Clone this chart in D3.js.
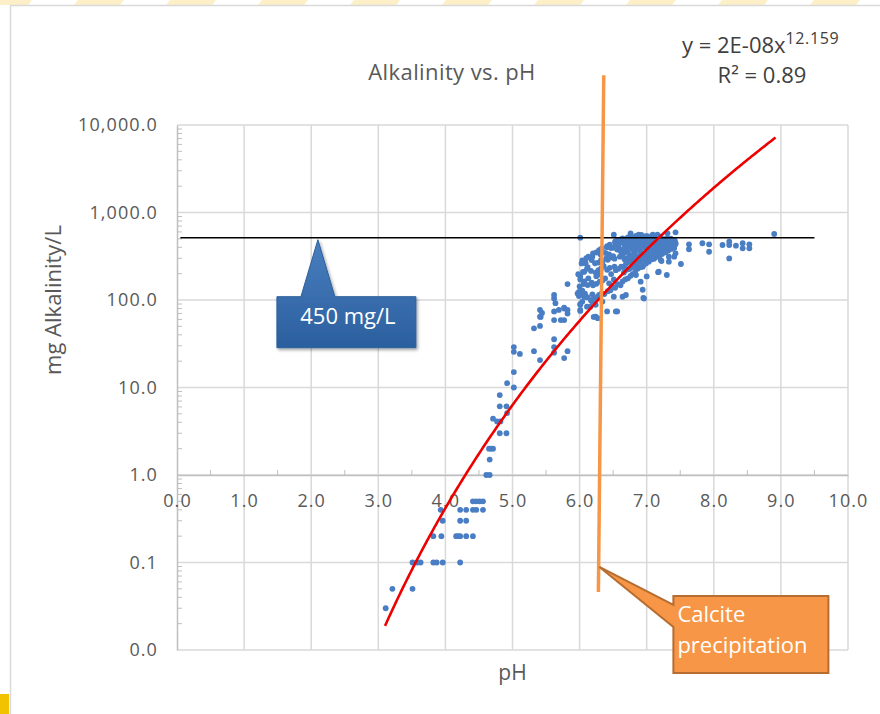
<!DOCTYPE html>
<html>
<head>
<meta charset="utf-8">
<script src="https://cdn.jsdelivr.net/npm/d3@7"></script>
<style>
  body { margin: 0; background: #fff; }
  text { font-family: "Open Sans", sans-serif; }
</style>
</head>
<body>
<div id="vis"></div>
<script>
// axis ticks
const xTicks = [0, 1, 2, 3, 4, 5, 6, 7, 8, 9, 10]
const yTicks = [0.01, 0.1, 1, 10, 100, 1000, 10000]
const yTickLabels = ['0.0', '0.1', '1.0', '10.0', '100.0', '1,000.0', '10,000.0']

// power trendline y = 2E-08 x^12.159
const trendCoef = 2e-8
const trendPow = 12.159
const trendRange = [3.1, 8.92]

// reference lines
const limitValue = 515          // horizontal line labelled "450 mg/L"
const limitRange = [0.05, 9.5]
const calcitePh = [6.36, 6.28]  // top, bottom of the orange line
const calciteAlk = [37000, 0.046]

// samples [pH, mg alkalinity / L] - low and scattered part
const samples = [
  [3.11,0.03],[3.21,0.05],[3.51,0.05],
  [3.51,0.1],[3.58,0.1],[3.63,0.1],[3.82,0.1],[3.87,0.1],[3.96,0.1],[4.22,0.1],
  [3.82,0.2],[3.94,0.2],[4.16,0.2],[4.19,0.2],[4.22,0.2],[4.31,0.2],[4.41,0.2],
  [3.96,0.3],[4.22,0.3],[4.31,0.3],
  [3.93,0.4],[4.22,0.4],[4.31,0.4],[4.41,0.4],[4.46,0.4],[4.56,0.4],
  [4.41,0.5],[4.46,0.5],[4.51,0.5],[4.56,0.5],
  [4.61,1.0],[4.66,1.0],[4.66,1.5],
  [4.65,2.0],[4.68,2.0],[4.71,2.0],
  [4.81,3.0],[4.91,3.0],
  [4.71,4.4],[4.77,4.1],[4.82,4.1],[4.92,5.1],
  [4.81,6.1],[4.91,6.1],[4.81,8.2],
  [4.92,11.2],[5.02,10],[5.02,15],
  [5.02,29],[5.02,25.6],[5.11,24.2],
  [5.32,26],[5.41,20.6],[5.62,35.6],[5.62,29],[5.62,25],[5.77,21.7],[5.82,26],
  [5.32,47.5],[5.41,50.5],[5.41,64.5],[5.44,71],[5.41,77],[5.42,64],
  [5.62,114],[5.62,104],[5.64,92],[5.62,74],[5.69,77],[5.77,82],[5.82,70],[5.72,59],[5.62,59],
  [5.82,152],[5.77,80],[5.82,77],[5.77,59],
  [5.99,119],[5.99,124],[5.99,111],[6.04,96],[6.01,117],[6.01,90],[6.01,75],[6.01,77],[6.01,88],
  [6.16,84],[6.11,84],[6.24,64.5],[6.21,64],[6.27,62],[6.24,88],[6.19,96],[6.34,96],
  [6.41,74],[6.54,74],[6.56,74],[6.51,109],[6.64,109],[6.69,114],[6.91,162],[6.96,104],
  [6.95,106],[6.94,131],[6.84,193],[6.94,240],[7.18,211],[7.30,193],[7.0,186],[7.17,208],
  [6.07,211],[6.01,186],[6.01,171],[6.07,109],[6.09,263],[6.19,313],[5.97,119],[6.04,114],[6.09,109],
  // row along the limit line
  [6.01,515],[6.51,557],[6.76,578],[6.88,557],[6.99,535],[7.09,557],[7.16,557],[7.31,578],[7.43,594],[8.9,568],
  // high pH tail
  [7.63,433],[7.83,445],[7.93,433],[7.93,356],[8.13,425],[8.23,464],[8.23,425],[8.23,299],[8.33,418],
  [8.43,445],[8.43,390],[8.53,433],[8.53,390],[7.63,380],[7.51,258],[7.43,341],[7.43,445],[7.41,410],
  [7.41,313],[7.33,274],[7.33,313],[7.21,286],[7.22,279]
]

// dense cluster between pH 6 and 7.4
const clusterSamples = [
  [6.00,143],[5.98,197],[6.03,262],
  [6.04,128],[6.06,152],[6.05,209],[6.04,283],
  [6.08,118],[6.07,163],[6.11,227],[6.10,301],[6.12,148],
  [6.12,107],[6.13,177],[6.12,238],[6.13,312],
  [6.17,99],[6.19,116],[6.18,158],[6.17,215],[6.18,286],
  [6.21,103],[6.20,147],[6.24,206],[6.23,263],[6.20,341],[6.25,187],
  [6.26,108],[6.25,153],[6.29,196],[6.28,268],[6.25,349],
  [6.29,114],[6.30,162],[6.28,219],[6.32,287],[6.31,333],[6.29,371],
  [6.33,119],[6.34,167],[6.32,229],[6.34,271],[6.35,352],[6.33,388],
  [6.37,117],[6.38,176],[6.36,244],[6.40,298],[6.39,343],[6.41,412],
  [6.42,126],[6.44,155],[6.41,221],[6.42,288],[6.44,331],[6.41,401],
  [6.46,129],[6.47,198],[6.45,233],[6.46,307],[6.47,392],[6.45,428],
  [6.49,141],[6.51,172],[6.52,240],[6.50,318],[6.51,396],[6.53,452],
  [6.53,138],[6.54,219],[6.52,297],[6.56,377],[6.55,418],[6.53,466],
  [6.57,152],[6.58,227],[6.60,313],[6.59,389],[6.58,437],[6.56,478],
  [6.61,147],[6.62,241],[6.64,324],[6.61,362],[6.62,452],[6.60,491],
  [6.64,163],[6.66,206],[6.65,238],[6.67,292],[6.63,336],[6.65,378],[6.67,429],[6.66,471],[6.64,507],
  [6.68,172],[6.70,221],[6.69,258],[6.71,301],[6.67,347],[6.69,397],[6.71,443],[6.70,488],
  [6.72,177],[6.74,226],[6.73,271],[6.75,316],[6.71,362],[6.73,409],[6.75,462],[6.74,503],[6.72,521],
  [6.76,189],[6.78,238],[6.77,284],[6.75,327],[6.79,376],[6.76,428],[6.78,476],[6.77,531],
  [6.79,198],[6.81,247],[6.80,297],[6.82,342],[6.78,391],[6.80,433],[6.82,482],[6.81,517],
  [6.83,214],[6.85,256],[6.84,311],[6.82,358],[6.86,402],[6.83,447],[6.85,496],[6.84,541],
  [6.87,229],[6.89,273],[6.88,318],[6.90,363],[6.86,418],[6.88,458],[6.90,507],
  [6.91,238],[6.93,287],[6.92,332],[6.90,377],[6.94,423],[6.91,469],[6.93,516],[6.92,553],
  [6.95,251],[6.97,296],[6.96,341],[6.98,392],[6.94,431],[6.96,478],[6.98,527],
  [6.99,262],[7.01,308],[7.00,352],[6.98,397],[7.02,443],[6.99,491],[7.01,536],
  [7.03,274],[7.05,319],[7.04,366],[7.06,408],[7.02,452],[7.04,497],[7.06,518],
  [7.07,291],[7.09,328],[7.08,377],[7.06,419],[7.10,461],[7.07,508],[7.09,548],
  [7.11,296],[7.13,344],[7.12,383],[7.14,428],[7.10,472],[7.12,512],
  [7.15,312],[7.17,351],[7.16,392],[7.14,437],[7.18,479],[7.15,526],
  [7.19,318],[7.21,367],[7.20,404],[7.22,446],[7.18,488],[7.20,531],
  [7.23,336],[7.25,378],[7.24,416],[7.22,459],[7.26,497],
  [7.28,351],[7.30,392],[7.29,431],[7.27,468],[7.31,506],
  [7.32,366],[7.34,408],[7.33,447],[7.35,489],
  [7.37,383],[7.39,422],[7.38,463],[7.36,502],
  [7.41,392],[7.43,437],[7.42,476]
]

let margin = {top: 125, right: 32, bottom: 64, left: 177},
    width = 880 - margin.left - margin.right,
    height = 714 - margin.top - margin.bottom

let root = d3.select('#vis')
  .append('svg')
  .attr('width', 880)
  .attr('height', 714)

// slide frame
let stripeStarts = d3.range(-20, 880, 92)
root.selectAll('.stripe')
  .data(stripeStarts)
  .join('path')
  .attr('d', d => `M${d + 6},0 L${d + 52},0 L${d + 48},5 L${d + 2},5 Z`)
  .attr('fill', '#fdf0c8')
root.append('line')
  .attr('x1', 10).attr('x2', 880).attr('y1', 5.5).attr('y2', 5.5)
  .attr('stroke', '#d9d9d9').attr('stroke-width', 1.5)
root.append('line')
  .attr('x1', 10.5).attr('x2', 10.5).attr('y1', 5).attr('y2', 714)
  .attr('stroke', '#d9d9d9').attr('stroke-width', 1.5)
root.append('rect')
  .attr('x', 0).attr('y', 694).attr('width', 9).attr('height', 20)
  .attr('fill', '#f2c200')

let defs = root.append('defs')
let grad = defs.append('linearGradient')
  .attr('id', 'blueGrad').attr('x1', 0).attr('x2', 0).attr('y1', 0).attr('y2', 1)
grad.append('stop').attr('offset', '0%').attr('stop-color', '#4a7ebf')
grad.append('stop').attr('offset', '100%').attr('stop-color', '#2b5f9e')
let shadow = defs.append('filter').attr('id', 'shadow')
  .attr('x', '-20%').attr('y', '-20%').attr('width', '140%').attr('height', '140%')
shadow.append('feDropShadow')
  .attr('dx', 1.5).attr('dy', 2).attr('stdDeviation', 1.5)
  .attr('flood-color', '#000').attr('flood-opacity', 0.35)

let svg = root.append('g')
  .attr('transform', `translate(${margin.left},${margin.top})`)

let xScale = d3.scaleLinear().domain([0, 10]).range([0, width])
let yScale = d3.scaleLog().domain([0.01, 10000]).range([height, 0])

// gridlines
svg.selectAll('.vgrid')
  .data(xTicks.slice(1))
  .join('line')
  .attr('x1', d => xScale(d)).attr('x2', d => xScale(d))
  .attr('y1', 0).attr('y2', height)
  .attr('stroke', '#d9d9d9').attr('stroke-width', 1.5)
svg.selectAll('.hgrid')
  .data(yTicks)
  .join('line')
  .attr('x1', 0).attr('x2', width)
  .attr('y1', d => yScale(d)).attr('y2', d => yScale(d))
  .attr('stroke', '#d9d9d9').attr('stroke-width', 1.5)

// y axis
let yAxis = svg.append('g')
  .call(d3.axisLeft(yScale).tickValues(yTicks).tickSize(0).tickPadding(19)
    .tickFormat((d, i) => yTickLabels[i]))
yAxis.select('.domain').attr('stroke', '#bfbfbf').attr('stroke-width', 1.5)
yAxis.selectAll('text')
  .attr('font-size', 18).attr('fill', '#595959')
  .style('letter-spacing', '1.1px')
  .style('font-family', '"Open Sans", sans-serif')

let minorY = []
yTicks.slice(0, -1).forEach(d => {
  for (let k = 2; k < 10; k++) minorY.push(d * k)
})
svg.selectAll('.yminor')
  .data(minorY)
  .join('line')
  .attr('x1', 0).attr('x2', 5)
  .attr('y1', d => yScale(d)).attr('y2', d => yScale(d))
  .attr('stroke', '#bfbfbf').attr('stroke-width', 1)

// x axis crossing at y = 1
let xAxis = svg.append('g')
  .attr('transform', `translate(0,${yScale(1)})`)
  .call(d3.axisBottom(xScale).tickValues(xTicks).tickSize(0).tickPadding(19)
    .tickFormat(d3.format('.1f')))
xAxis.select('.domain').attr('stroke', '#bfbfbf').attr('stroke-width', 1.5)
xAxis.selectAll('text')
  .attr('font-size', 18).attr('fill', '#595959')
  .style('letter-spacing', '1.1px')
  .style('font-family', '"Open Sans", sans-serif')

svg.selectAll('.xminor')
  .data(xTicks.slice(0, -1).map(d => d + 0.5))
  .join('line')
  .attr('x1', d => xScale(d)).attr('x2', d => xScale(d))
  .attr('y1', yScale(1)).attr('y2', yScale(1) - 5)
  .attr('stroke', '#bfbfbf').attr('stroke-width', 1)

// points
svg.selectAll('.pt')
  .data(samples.concat(clusterSamples))
  .join('circle')
  .attr('cx', d => xScale(d[0]))
  .attr('cy', d => yScale(d[1]))
  .attr('r', 2.9)
  .attr('fill', '#4a7ec4')

// limit line
svg.append('line')
  .attr('x1', xScale(limitRange[0])).attr('x2', xScale(limitRange[1]))
  .attr('y1', yScale(limitValue)).attr('y2', yScale(limitValue))
  .attr('stroke', '#000').attr('stroke-width', 1.6)

// trendline
let trendX = d3.range(trendRange[0], trendRange[1], 0.02).concat([trendRange[1]])
let line = d3.line()
  .x(d => xScale(d))
  .y(d => yScale(trendCoef * Math.pow(d, trendPow)))
svg.append('path')
  .attr('d', line(trendX))
  .attr('fill', 'none')
  .attr('stroke', '#ee0000')
  .attr('stroke-width', 2.6)

// calcite line
svg.append('line')
  .attr('x1', xScale(calcitePh[0])).attr('x2', xScale(calcitePh[1]))
  .attr('y1', yScale(calciteAlk[0])).attr('y2', yScale(calciteAlk[1]))
  .attr('stroke', '#f79646').attr('stroke-width', 3.5)

// blue callout
let bx = xScale(2.1), by = yScale(limitValue) + 2
let blue = svg.append('g').attr('filter', 'url(#shadow)')
blue.append('path')
  .attr('d', `M${bx - 41},${by + 57} L${bx - 17},${by + 57} L${bx},${by} L${bx + 17},${by + 57}
              L${bx + 98},${by + 57} L${bx + 98},${by + 108} L${bx - 41},${by + 108} Z`)
  .attr('fill', 'url(#blueGrad)')
  .attr('stroke', '#2d5f99').attr('stroke-width', 1)
svg.append('text')
  .attr('x', bx + 30).attr('y', by + 84)
  .attr('text-anchor', 'middle')
  .attr('fill', '#fff')
  .attr('font-size', 22)
  .text('450 mg/L')

// orange callout
let ox = xScale(calcitePh[1]) + 1, oy = yScale(0.089)
svg.append('path')
  .attr('d', `M${ox + 74},${oy + 29} L${ox + 229},${oy + 29} L${ox + 229},${oy + 106}
              L${ox + 74},${oy + 106} L${ox + 74},${oy + 60} L${ox},${oy} L${ox + 74},${oy + 38} Z`)
  .attr('fill', '#f79646')
  .attr('stroke', '#b66d31').attr('stroke-width', 2)
svg.append('text')
  .attr('x', ox + 78).attr('y', oy + 55)
  .attr('fill', '#fff').attr('font-size', 22)
  .text('Calcite')
svg.append('text')
  .attr('x', ox + 78).attr('y', oy + 86)
  .attr('fill', '#fff').attr('font-size', 22)
  .text('precipitation')

// titles
root.append('text')
  .attr('x', 452).attr('y', 80)
  .attr('text-anchor', 'middle')
  .attr('fill', '#595959').attr('font-size', 22)
  .style('letter-spacing', '0.4px')
  .text('Alkalinity vs. pH')

let eq = root.append('text')
  .attr('x', 682).attr('y', 53)
  .attr('fill', '#404040').attr('font-size', 22)
eq.append('tspan').text('y = 2E-08x')
eq.append('tspan').attr('dy', -9).attr('font-size', 16)
  .style('letter-spacing', '0.6px').text('12.159')

root.append('text')
  .attr('x', 762).attr('y', 83)
  .attr('text-anchor', 'middle')
  .attr('fill', '#404040').attr('font-size', 22)
  .text('R² = 0.89')

root.append('text')
  .attr('transform', `translate(61,300) rotate(-90)`)
  .attr('text-anchor', 'middle')
  .attr('fill', '#595959').attr('font-size', 22)
  .text('mg Alkalinity/L')

root.append('text')
  .attr('x', margin.left + xScale(5)).attr('y', 680)
  .attr('text-anchor', 'middle')
  .attr('fill', '#595959').attr('font-size', 21)
  .text('pH')
</script>
</body>
</html>
